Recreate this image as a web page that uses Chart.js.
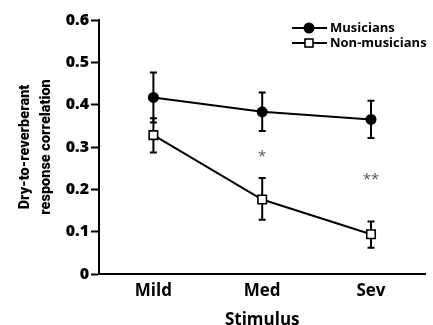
<!DOCTYPE html>
<html>
<head>
<meta charset="utf-8">
<script src="https://cdn.jsdelivr.net/npm/chart.js@4.4.1/dist/chart.umd.min.js"></script>
<style>
  html, body { margin:0; padding:0; background:#fff; }
  #wrap { width:433px; height:325px; }
</style>
</head>
<body>
<div id="wrap"><canvas id="chart" width="433" height="325"></canvas></div>
<script>
// ---- data ----
const stimuli = ["Mild", "Med", "Sev"];
const musicians = [0.417, 0.383, 0.365];
const musiciansErrHi = [0.476, 0.429, 0.409];
const musiciansErrLo = [0.358, 0.338, 0.321];
const nonMusicians = [0.328, 0.176, 0.094];
const nonMusiciansErrHi = [0.368, 0.227, 0.124];
const nonMusiciansErrLo = [0.287, 0.128, 0.062];
const sigMarks = ["", "*", "**"];
const sigValues = [null, 0.283, 0.230];
const yTicks = [0, 0.1, 0.2, 0.3, 0.4, 0.5, 0.6];

const FONT = "'Open Sans', sans-serif";
const TITLE_FONT = "Roboto, 'Open Sans', sans-serif";

// error bars, drawn under the markers
const errorBars = {
  id: "errorBars",
  beforeDatasetsDraw(chart){
    const {ctx, scales:{x, y}} = chart;
    ctx.save();
    ctx.strokeStyle = "#000";
    ctx.lineWidth = 2;
    chart.data.datasets.forEach(ds => {
      ds.data.forEach((v, i) => {
        const px = x.getPixelForValue(i);
        const top = y.getPixelForValue(ds.errHi[i]);
        const bot = y.getPixelForValue(ds.errLo[i]);
        ctx.beginPath();
        ctx.moveTo(px, top); ctx.lineTo(px, bot);
        ctx.moveTo(px - 3.5, top); ctx.lineTo(px + 3.5, top);
        ctx.moveTo(px - 3.5, bot); ctx.lineTo(px + 3.5, bot);
        ctx.stroke();
      });
    });
    ctx.restore();
  }
};

// significance stars + legend
const extras = {
  id: "extras",
  afterDraw(chart){
    const {ctx, scales:{x, y}} = chart;
    ctx.save();
    ctx.fillStyle = "#555";
    ctx.font = "15px " + FONT;
    ctx.textAlign = "center";
    ctx.textBaseline = "middle";
    sigMarks.forEach((s, i) => {
      if(!s) return;
      ctx.fillText(s, x.getPixelForValue(i), y.getPixelForValue(sigValues[i]) + 3);
    });

    // legend
    const lx = 292, ly = 28, gap = 15;
    chart.data.datasets.forEach((ds, i) => {
      const cy = ly + i * gap;
      ctx.strokeStyle = "#000"; ctx.lineWidth = 2;
      ctx.beginPath(); ctx.moveTo(lx, cy); ctx.lineTo(lx + 35, cy); ctx.stroke();
      if(ds.pointStyle === "circle"){
        ctx.fillStyle = "#000";
        ctx.beginPath(); ctx.arc(lx + 17, cy, 5.5, 0, Math.PI * 2); ctx.fill();
      } else {
        ctx.fillStyle = "#fff";
        ctx.lineWidth = 1.6;
        ctx.fillRect(lx + 13, cy - 4, 8, 8);
        ctx.strokeRect(lx + 13, cy - 4, 8, 8);
      }
      ctx.fillStyle = "#000";
      ctx.font = "700 13px " + FONT;
      ctx.textAlign = "left";
      ctx.fillText(ds.label, lx + 38, cy);
    });
    ctx.restore();
  }
};

new Chart(document.getElementById("chart"), {
  type: "line",
  data: {
    labels: stimuli,
    datasets: [
      {
        label: "Musicians",
        data: musicians,
        errHi: musiciansErrHi,
        errLo: musiciansErrLo,
        borderColor: "#000",
        borderWidth: 2,
        pointStyle: "circle",
        pointRadius: 5.5,
        pointBackgroundColor: "#000",
        pointBorderColor: "#000",
        pointBorderWidth: 0
      },
      {
        label: "Non-musicians",
        data: nonMusicians,
        errHi: nonMusiciansErrHi,
        errLo: nonMusiciansErrLo,
        borderColor: "#000",
        borderWidth: 2,
        pointStyle: "rect",
        pointRadius: 6,
        pointBackgroundColor: "#fff",
        pointBorderColor: "#000",
        pointBorderWidth: 1.6
      }
    ]
  },
  options: {
    responsive: false,
    animation: false,
    layout: { padding: { top: 20, right: 0, left: 0, bottom: 0 } },
    plugins: { legend: { display: false }, tooltip: { enabled: false } },
    scales: {
      x: {
        offset: true,
        grid: { display: false, drawOnChartArea: false, drawTicks: true, tickLength: 6, tickWidth: 2, tickColor: "#000", offset: false },
        border: { color: "#000", width: 2 },
        ticks: { color: "#000", font: { family: FONT, size: 17, weight: 700 }, padding: 1 },
        title: { display: true, text: "Stimulus", color: "#000", font: { family: FONT, size: 17, weight: 700 }, padding: { top: 0, bottom: -5 } },
        afterFit(s){ s.height = 51; }
      },
      y: {
        min: 0, max: 0.6,
        afterBuildTicks(s){ s.ticks = yTicks.map(v => ({ value: v })); },
        grid: { drawOnChartArea: false, drawTicks: true, tickLength: 8, tickWidth: 2, tickColor: "#000" },
        border: { color: "#000", width: 2 },
        ticks: {
          color: "#000", font: { family: FONT, size: 16, weight: 800 }, padding: 2,
          callback: v => v === 0 ? "0" : v.toFixed(1)
        },
        title: {
          display: true, text: ["Dry-to-reverberant", "response correlation"], color: "#000",
          font: { family: TITLE_FONT, size: 14.5, weight: 900, lineHeight: 1.5 }, padding: { top: 14, bottom: 4 }
        },
        afterFit(s){ s.width = 99; }
      }
    }
  },
  plugins: [errorBars, extras]
});
</script>
</body>
</html>
